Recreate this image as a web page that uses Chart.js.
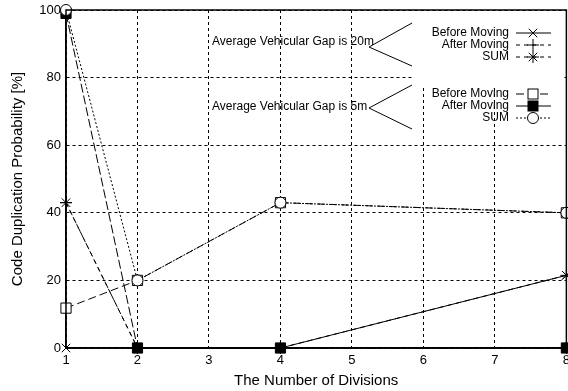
<!DOCTYPE html>
<html>
<head>
<meta charset="utf-8">
<script src="https://cdn.jsdelivr.net/npm/chart.js@4.4.1/dist/chart.umd.min.js"></script>
<style>
  html, body { margin: 0; padding: 0; background: #fff; overflow: hidden; }
  #wrap { position: absolute; left: 0; top: 0; width: 575px; height: 391px; }
</style>
</head>
<body>
<div id="wrap"><canvas id="c"></canvas></div>
<script>
// ---- data ----
const categories = [1, 2, 4, 8];
const before20 = [0, 0, 0, 21.5];
const after20  = [43, 0, 0, 0];
const sum20    = [43, 0, 0, 21.5];
const before5  = [11.8, 20, 43, 40];
const after5   = [99, 0, 0, 0];
const sum5     = [100, 20, 43, 40];
const xTickValues = [1, 2, 3, 4, 5, 6, 7, 8];
const yTickValues = [0, 20, 40, 60, 80, 100];
const legendLabels = ['Before Moving', 'After Moving', 'SUM'];
const groupLabels = ['Average Vehicular Gap is 20m', 'Average Vehicular Gap is 5m'];

const FONT = '"Liberation Sans", Arial, Helvetica, sans-serif';
const pts = arr => categories.map((x, i) => ({ x: x, y: arr[i] }));

function ds(label, arr, style, pointStyle, radius, fill, extra) {
  return Object.assign({
    label: label,
    data: pts(arr),
    borderColor: '#000',
    borderWidth: 1,
    borderDash: style,
    pointStyle: pointStyle,
    pointRadius: radius,
    pointHoverRadius: radius,
    pointBorderColor: '#000',
    pointBackgroundColor: fill,
    pointBorderWidth: 1,
    fill: false,
    tension: 0,
    clip: false
  }, extra || {});
}

const datasets = [
  ds('SUM (5m)', sum5, [2, 2], 'circle', 5.5, '#fff'),
  ds('Before Moving (5m)', before5, [8, 4], 'rect', 7.2, '#fff'),
  ds('After Moving (5m)', after5, [], 'rect', 7.2, '#000', {
    segment: { borderDash: ctx => ctx.p0DataIndex === 0 ? [9, 3] : [] }
  }),
  ds('SUM (20m)', sum20, [5, 4], 'star', 6, '#000'),
  ds('After Moving (20m)', after20, [4, 4], 'cross', 6, '#000'),
  ds('Before Moving (20m)', before20, [], 'crossRot', 6, '#000')
];

function marker(ctx, type, x, y) {
  ctx.save();
  ctx.setLineDash([]);
  ctx.lineWidth = 1;
  ctx.strokeStyle = '#000';
  if (type === 'crossRot' || type === 'star') {
    const r = 6 * Math.SQRT1_2;
    ctx.beginPath();
    ctx.moveTo(x - r, y - r); ctx.lineTo(x + r, y + r);
    ctx.moveTo(x + r, y - r); ctx.lineTo(x - r, y + r);
    ctx.stroke();
  }
  if (type === 'cross' || type === 'star') {
    ctx.beginPath();
    ctx.moveTo(x, y - 6); ctx.lineTo(x, y + 6);
    ctx.moveTo(x - 6, y); ctx.lineTo(x + 6, y);
    ctx.stroke();
  }
  if (type === 'rectOpen' || type === 'rectFill') {
    ctx.fillStyle = type === 'rectFill' ? '#000' : '#fff';
    ctx.fillRect(x - 5, y - 5, 10, 10);
    ctx.strokeRect(x - 5, y - 5, 10, 10);
  }
  if (type === 'circle') {
    ctx.fillStyle = '#fff';
    ctx.beginPath();
    ctx.arc(x, y, 5.5, 0, Math.PI * 2);
    ctx.fill(); ctx.stroke();
  }
  ctx.restore();
}

const overlay = {
  id: 'overlay',
  beforeDatasetsDraw(chart) {
    const ctx = chart.ctx;
    ctx.save();
    ctx.fillStyle = '#fff';
    ctx.fillRect(412, 11, 150, 76);
    ctx.restore();
  },
  afterDraw(chart) {
    const ctx = chart.ctx;
    const a = chart.chartArea;
    ctx.save();
    ctx.strokeStyle = '#000';
    ctx.lineWidth = 1.5;
    ctx.setLineDash([]);
    ctx.strokeRect(a.left, a.top, a.right - a.left, a.bottom - a.top);

    ctx.font = '12px ' + FONT;
    ctx.fillStyle = '#000';
    ctx.textBaseline = 'middle';
    ctx.textAlign = 'left';
    ctx.fillText(groupLabels[0], 212, 42);
    ctx.fillText(groupLabels[1], 212, 107);
    ctx.lineWidth = 1;
    ctx.beginPath();
    ctx.moveTo(412, 23); ctx.lineTo(369, 47); ctx.lineTo(412, 66);
    ctx.moveTo(412, 85); ctx.lineTo(369, 108); ctx.lineTo(412, 129);
    ctx.stroke();

    const rows = [
      { y: 33, t: legendLabels[0], dash: [], m: 'crossRot' },
      { y: 45, t: legendLabels[1], dash: [4, 4], m: 'cross' },
      { y: 57, t: legendLabels[2], dash: [4, 4], m: 'star' },
      { y: 94, t: legendLabels[0], dash: [8, 4], m: 'rectOpen' },
      { y: 106, t: legendLabels[1], dash: [], m: 'rectFill' },
      { y: 118, t: legendLabels[2], dash: [2, 2], m: 'circle' }
    ];
    ctx.textAlign = 'right';
    rows.forEach(r => {
      ctx.fillStyle = '#000';
      ctx.fillText(r.t, 509, r.y);
      ctx.setLineDash(r.dash);
      ctx.lineWidth = 1;
      ctx.beginPath();
      ctx.moveTo(516, r.y); ctx.lineTo(551, r.y);
      ctx.stroke();
      ctx.setLineDash([]);
      marker(ctx, r.m, 533, r.y);
    });
    ctx.restore();
  }
};

new Chart(document.getElementById('c'), {
  type: 'line',
  data: { datasets: datasets },
  options: {
    responsive: true,
    maintainAspectRatio: false,
    animation: false,
    events: [],
    layout: { padding: { top: 0, left: 0, right: 0, bottom: 0 } },
    plugins: { legend: { display: false }, tooltip: { enabled: false } },
    scales: {
      x: {
        type: 'linear',
        min: 1, max: 8,
        afterBuildTicks: s => { s.ticks = xTickValues.map(v => ({ value: v })); },
        afterFit: s => { s.height = 43; },
        ticks: { color: '#000', font: { family: FONT, size: 13 }, padding: 5, maxRotation: 0 },
        grid: { color: '#000', lineWidth: 1, drawTicks: false },
        border: { display: true, color: '#000', width: 1.5, dash: [3, 3] },
        title: { display: true, text: 'The Number of Divisions', color: '#000',
                 font: { family: FONT, size: 15 }, padding: { top: 0, bottom: 1 } }
      },
      y: {
        min: 0, max: 100,
        afterBuildTicks: s => { s.ticks = yTickValues.map(v => ({ value: v })); },
        afterFit: s => { s.width = 66; s.paddingTop = 10; },
        ticks: { color: '#000', font: { family: FONT, size: 13 }, padding: 5 },
        grid: { color: '#000', lineWidth: 1, drawTicks: false },
        border: { display: true, color: '#000', width: 1.5, dash: [3, 3] },
        title: { display: true, text: 'Code Duplication Probability [%]', color: '#000',
                 font: { family: FONT, size: 15 }, padding: { top: 9, bottom: 0 } }
      }
    }
  },
  plugins: [overlay]
});
</script>
</body>
</html>
